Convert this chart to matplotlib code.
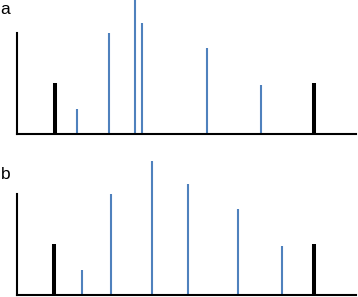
import matplotlib
matplotlib.use('Agg')
import matplotlib.pyplot as plt

# peak positions (px from left axis) and heights for each panel
pos_a = [37.7, 59.7, 92.3, 117.7, 124.7, 189.7, 243.7, 297.3]
pos_b = [37.3, 64.7, 94.0, 135.0, 171.3, 221.3, 265.0, 297.0]
heights = [51, 25, 101, 134, 111, 86, 49, 51]
is_marker = [True, False, False, False, False, False, False, True]
panel_labels = ['a', 'b']

W, H = 358, 297
fig = plt.figure(figsize=(W / 100, H / 100), dpi=100)

blue = '#4f81bd'

def draw(ax, pos):
    for x, h, m in zip(pos, heights, is_marker):
        if m:
            ax.vlines(x, 0, h, colors='black', linewidths=2.9)
        else:
            ax.vlines(x, 0, h, colors=blue, linewidths=1.5)
    ax.set_xlim(0, 339)
    ax.set_ylim(0, 134)
    ax.spines['top'].set_visible(False)
    ax.spines['right'].set_visible(False)
    ax.spines['left'].set_bounds(0, 101)
    ax.spines['left'].set_linewidth(1.5)
    ax.spines['bottom'].set_linewidth(1.5)
    ax.set_xticks([])
    ax.set_yticks([])

# panel a: baseline at y=134 px, panel b: baseline at y=295 px
ax_a = fig.add_axes([17 / W, (H - 134) / H, 339 / W, 134 / H])
ax_a.patch.set_alpha(0)
draw(ax_a, pos_a)

ax_b = fig.add_axes([17 / W, (H - 295) / H, 339 / W, 134 / H])
ax_b.patch.set_alpha(0)
draw(ax_b, pos_b)

fig.text(0.5 / W, 1 - 13.5 / H, panel_labels[0], fontsize=12.5,
         family='Liberation Sans', va='baseline', ha='left')
fig.text(0.5 / W, 1 - 179 / H, panel_labels[1], fontsize=12.5,
         family='Liberation Sans', va='baseline', ha='left')

fig.savefig('out.png', dpi=100)
